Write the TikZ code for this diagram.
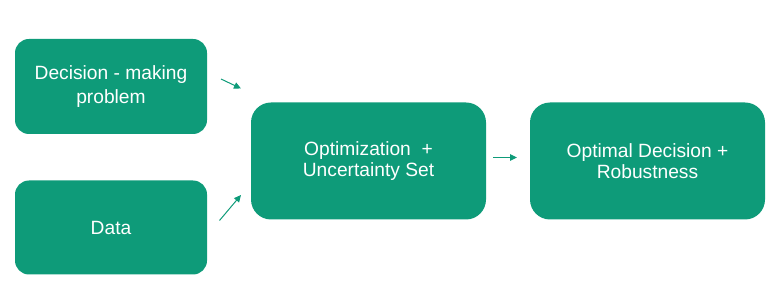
\documentclass[tikz,border=0pt]{standalone}
\usepackage{fontspec}
\setmainfont{Liberation Sans}
\usetikzlibrary{arrows.meta}
\definecolor{boxgreen}{RGB}{14,155,121}
\tikzset{
  box/.style={fill=boxgreen, draw=none, rounded corners=14pt, text=white, align=center,
    font=\fontsize{19.2}{21.5}\selectfont, inner sep=0pt},
  conn/.style={draw=boxgreen, line width=1pt, -{Triangle[length=7pt,width=6.5pt]}}
}
\begin{document}
\begin{tikzpicture}[x=1pt,y=-1pt]
\useasboundingbox (0,0) rectangle (768,296);
\node[box, minimum width=192pt, minimum height=95pt, font=\fontsize{19.2}{23.5}\selectfont] (dec) at (111,86.5) {Decision - making\\problem};
\node[box, minimum width=192pt, minimum height=94pt] (data) at (111,227.5) {Data};
\node[box, minimum width=235pt, minimum height=117pt, rounded corners=20pt] (opt) at (368.5,161) {Optimization\ \ +\\Uncertainty Set};
\node[box, minimum width=235pt, minimum height=117pt, rounded corners=20pt] (res) at (647.5,161) {Optimal Decision +\\Robustness};
\coordinate (a1s) at (221,79);
\coordinate (a1e) at (241,88.5);
\coordinate (a2s) at (219.5,220.5);
\coordinate (a2e) at (241,195);
\coordinate (a3s) at (493,157.5);
\coordinate (a3e) at (517,157.5);
\draw[conn] (a1s) -- (a1e);
\draw[conn] (a2s) -- (a2e);
\draw[conn] (a3s) -- (a3e);
\end{tikzpicture}
\end{document}
